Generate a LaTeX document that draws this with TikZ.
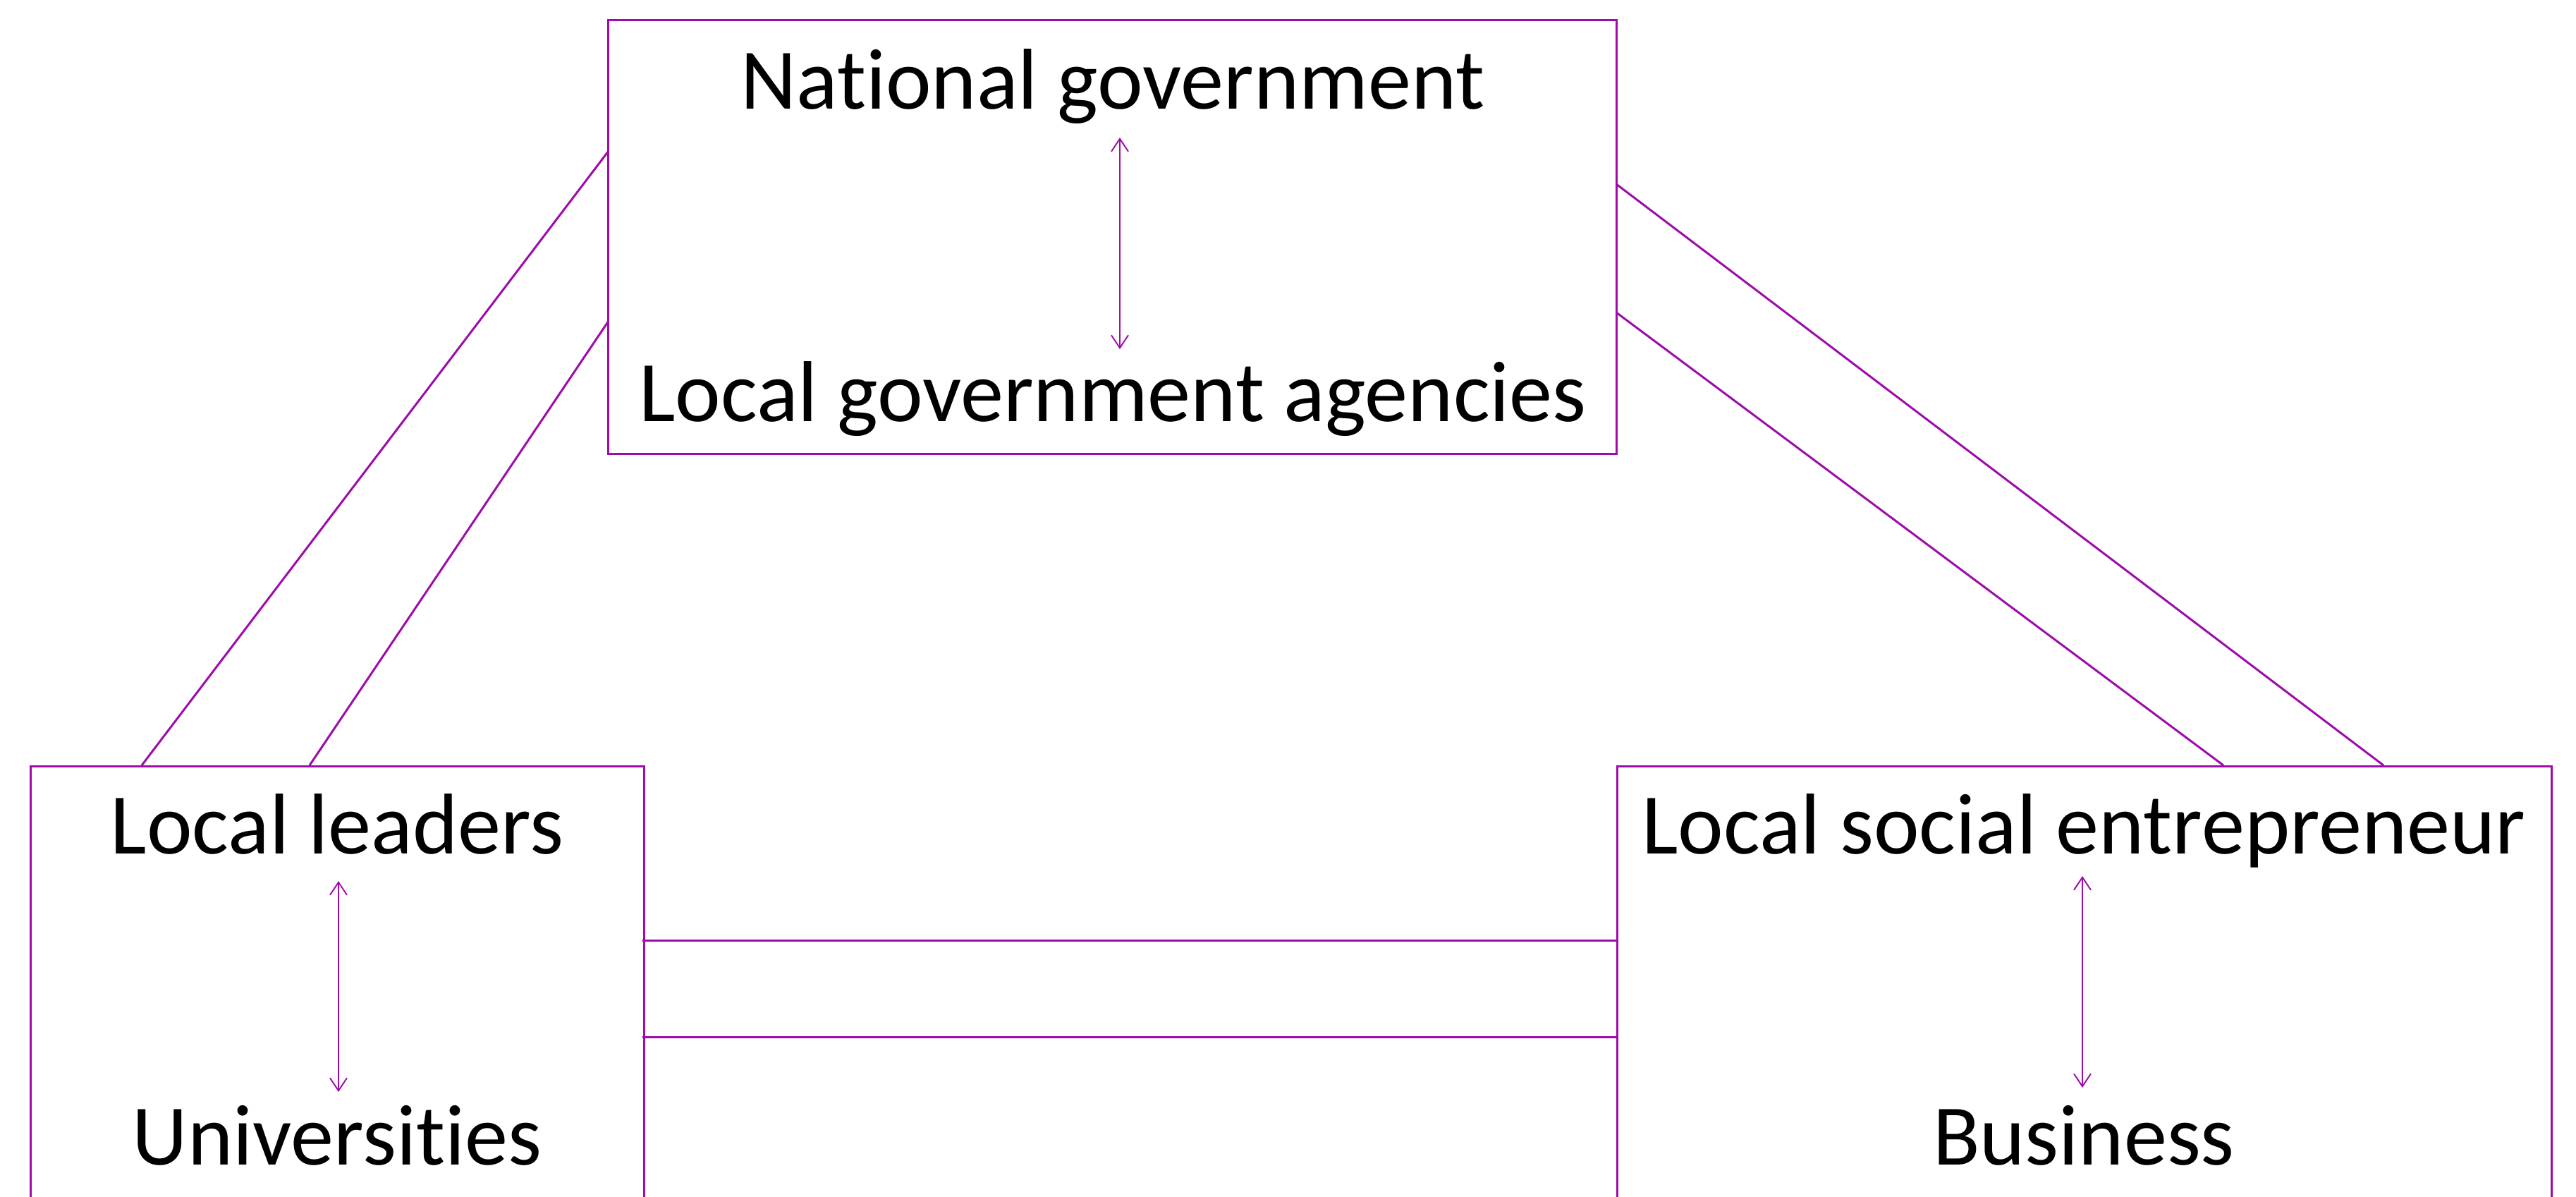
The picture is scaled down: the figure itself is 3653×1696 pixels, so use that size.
\documentclass[tikz,border=0pt]{standalone}
\usepackage{fontspec}
\setmainfont{Carlito}[RawFeature={-liga}]
\usetikzlibrary{arrows.meta}
\definecolor{lineviolet}{RGB}{158,12,170}
\tikzset{
  boxframe/.style={draw=lineviolet, line width=0.85pt, inner sep=0pt},
  link/.style={draw=lineviolet, line width=0.85pt},
  twoway/.style={draw=lineviolet, line width=0.55pt,
    {Straight Barb[length=0.18cm,width=0.24cm]}-{Straight Barb[length=0.18cm,width=0.24cm]}},
  label/.style={font=\fontsize{34.8}{40}\selectfont, inner sep=0pt, anchor=base}
}
\begin{document}
\begin{tikzpicture}[x=0.01cm,y=-0.01cm]
\useasboundingbox (0,0) rectangle (3653,1696);
\clip (0,0) rectangle (3653,1696);
% boxes
\node[boxframe, minimum width=14.29cm, minimum height=6.14cm] (topbox) at (1577.2,336) {};
\node[boxframe, minimum width=8.696cm, minimum height=8cm, anchor=north west] (leftbox) at (41.7,1085) {};
\node[boxframe, minimum width=13.243cm, minimum height=8cm, anchor=north west] (rightbox) at (2291.7,1085) {};
% texts
\node[label] (natgov) at (1578,154) {National government};
\node[label] (locgov) at (1578,597) {Local government agencies};
\node[label] (leaders) at (478,1210) {Local leaders};
\node[label] (univ) at (478,1651) {Universities};
\node[label] (entre) at (2955,1210) {Local social entrepreneur};
\node[label] (busi) at (2955,1651) {Business};
% internal arrows
\coordinate (a1) at (1588,195); \coordinate (a2) at (1588,495);
\coordinate (b1) at (480,1249); \coordinate (b2) at (480,1548);
\coordinate (c1) at (2953,1242); \coordinate (c2) at (2953,1542);
\draw[twoway] (a1) -- (a2);
\draw[twoway] (b1) -- (b2);
\draw[twoway] (c1) -- (c2);
% connector end points on box edges
\coordinate (tl1) at (863,214);  \coordinate (bl1) at (201,1085);
\coordinate (tl2) at (863,455);  \coordinate (bl2) at (439,1085);
\coordinate (tr1) at (2292,261); \coordinate (br1) at (3380,1085);
\coordinate (tr2) at (2292,443); \coordinate (br2) at (3153,1085);
\coordinate (h1l) at (911.3,1333.7); \coordinate (h1r) at (2291.7,1333.7);
\coordinate (h2l) at (911.3,1470);   \coordinate (h2r) at (2291.7,1470);
\draw[link] (tl1) -- (bl1);
\draw[link] (tl2) -- (bl2);
\draw[link] (tr1) -- (br1);
\draw[link] (tr2) -- (br2);
\draw[link] (h1l) -- (h1r);
\draw[link] (h2l) -- (h2r);
\end{tikzpicture}
\end{document}
